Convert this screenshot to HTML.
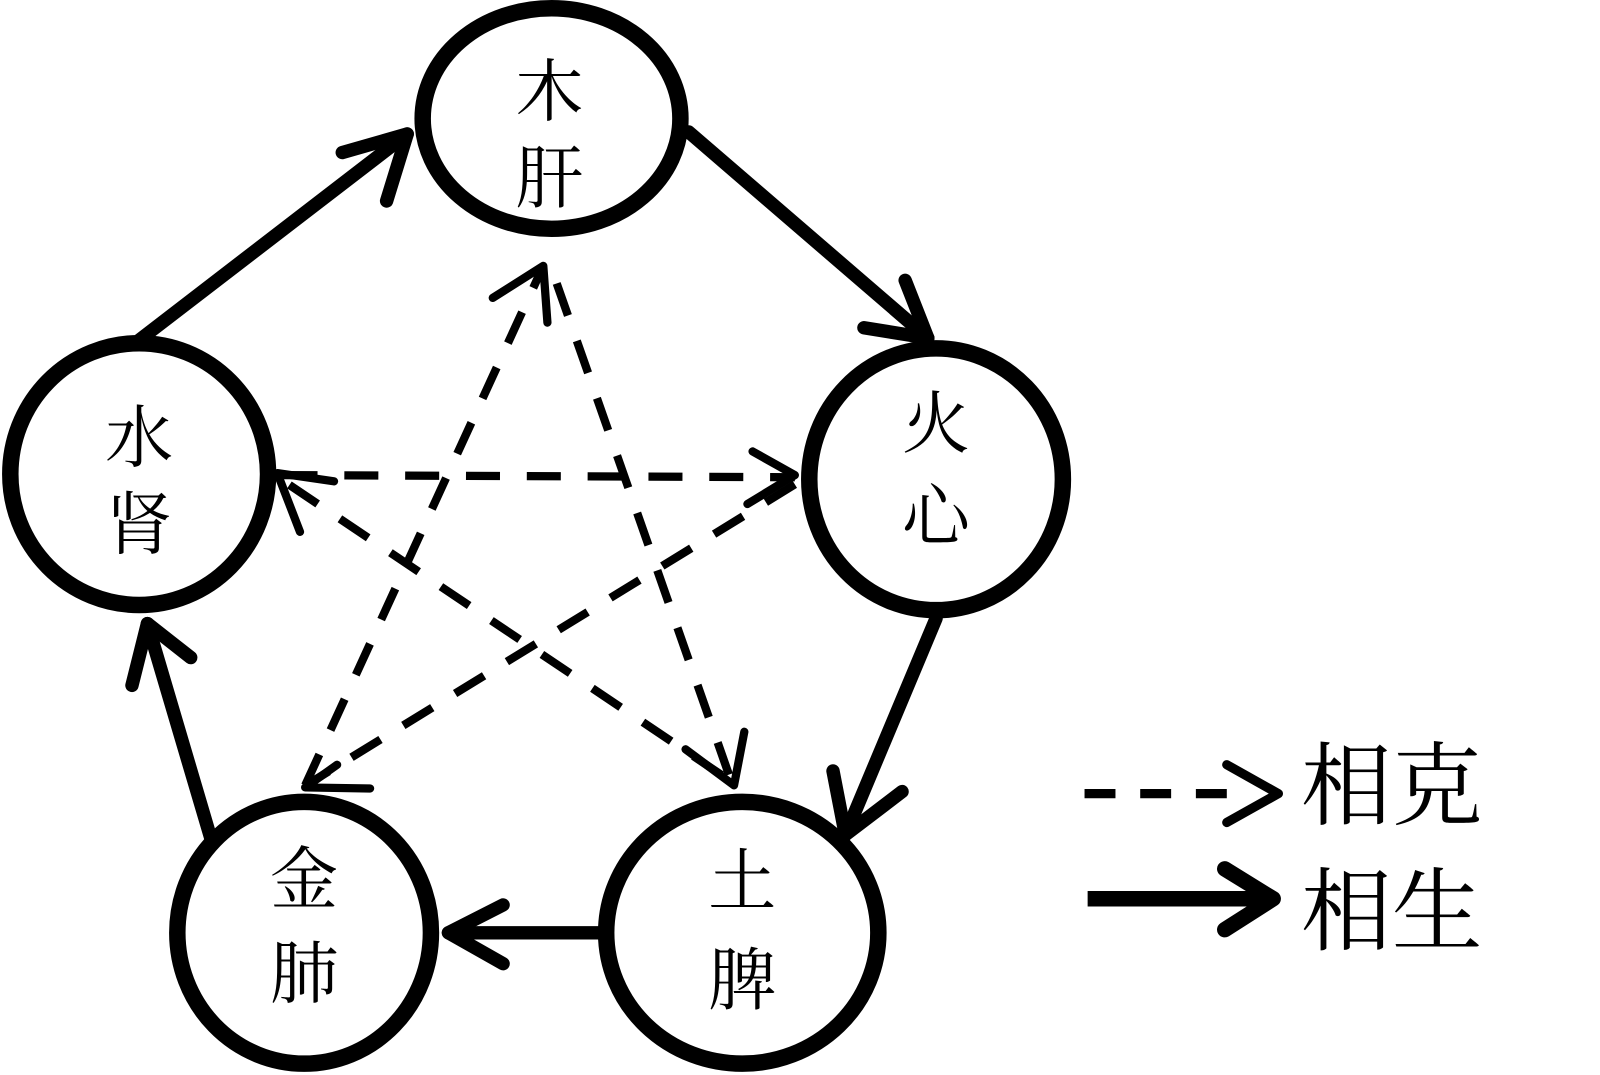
<!DOCTYPE html>
<html><head><meta charset="utf-8"><style>
html,body{margin:0;padding:0;background:#fff;width:1600px;height:1075px;overflow:hidden}
svg{display:block}
text{font-family:"Liberation Serif","Noto Serif CJK SC",serif;font-size:66px;fill:#000;text-anchor:middle}
</style></head><body>
<svg width="1600" height="1075" viewBox="0 0 1552 1043" preserveAspectRatio="none" xmlns="http://www.w3.org/2000/svg">
<g fill="none" stroke="#000" stroke-width="16">
<ellipse cx="535" cy="115" rx="125" ry="107"/>
<ellipse cx="908" cy="465" rx="123" ry="127"/>
<ellipse cx="135" cy="460" rx="125" ry="127"/>
<ellipse cx="295" cy="905" rx="123" ry="127"/>
<ellipse cx="720" cy="905" rx="132" ry="127"/>
</g>
<g fill="none" stroke="#000" stroke-width="13" stroke-linecap="round" stroke-linejoin="round">
<line x1="135" y1="330" x2="395" y2="130"/><polyline points="332,148 395,130 375,195"/>
<line x1="668" y1="128" x2="900" y2="328"/><polyline points="878,272 900,328 838,318"/>
<line x1="908" y1="600" x2="820" y2="810"/><polyline points="808,748 820,810 875,768"/>
<line x1="585" y1="905" x2="435" y2="905"/><polyline points="488,878 435,905 488,935"/>
<line x1="205" y1="815" x2="143" y2="605"/><polyline points="128,665 143,605 185,638"/>
<line x1="1055" y1="872" x2="1225" y2="872" stroke-width="15" stroke-linecap="butt"/><polyline points="1188,843 1235,872 1188,902" stroke-width="15"/>
</g>
<g fill="none" stroke="#000" stroke-width="8" stroke-dasharray="33 26">
<line x1="296" y1="762" x2="527" y2="258"/>
<line x1="540" y1="275" x2="710" y2="760"/>
<line x1="275" y1="461" x2="771" y2="463"/>
<line x1="771" y1="470" x2="300" y2="760"/>
<line x1="700" y1="752" x2="280" y2="470"/>
<line x1="1052" y1="770" x2="1200" y2="770" stroke-width="9" stroke-dasharray="30 24"/>
</g>
<g fill="none" stroke="#000" stroke-width="8" stroke-linecap="round" stroke-linejoin="round">
<polyline points="478,289 527,258 531,313"/>
<polyline points="730,438 771,461 725,489"/>
<polyline points="324,467 269,459 291,516"/>
<polyline points="359,765 296,764 327,742"/>
<polyline points="722,710 712,762 665,727"/>
<polyline points="1190,742 1240,770 1190,798" stroke-width="9"/>
</g>
<text x="533" y="112">木</text><text x="533" y="196">肝</text>
<text x="908" y="434">火</text><text x="908" y="524">心</text>
<text x="135" y="448">水</text><text x="135" y="532">肾</text>
<text x="295" y="876">金</text><text x="295" y="968">肺</text>
<text x="720" y="878">土</text><text x="720" y="974">脾</text>
<text x="1350" y="793" style="font-size:88px">相克</text>
<text x="1350" y="915" style="font-size:88px">相生</text>
</svg>
</body></html>
